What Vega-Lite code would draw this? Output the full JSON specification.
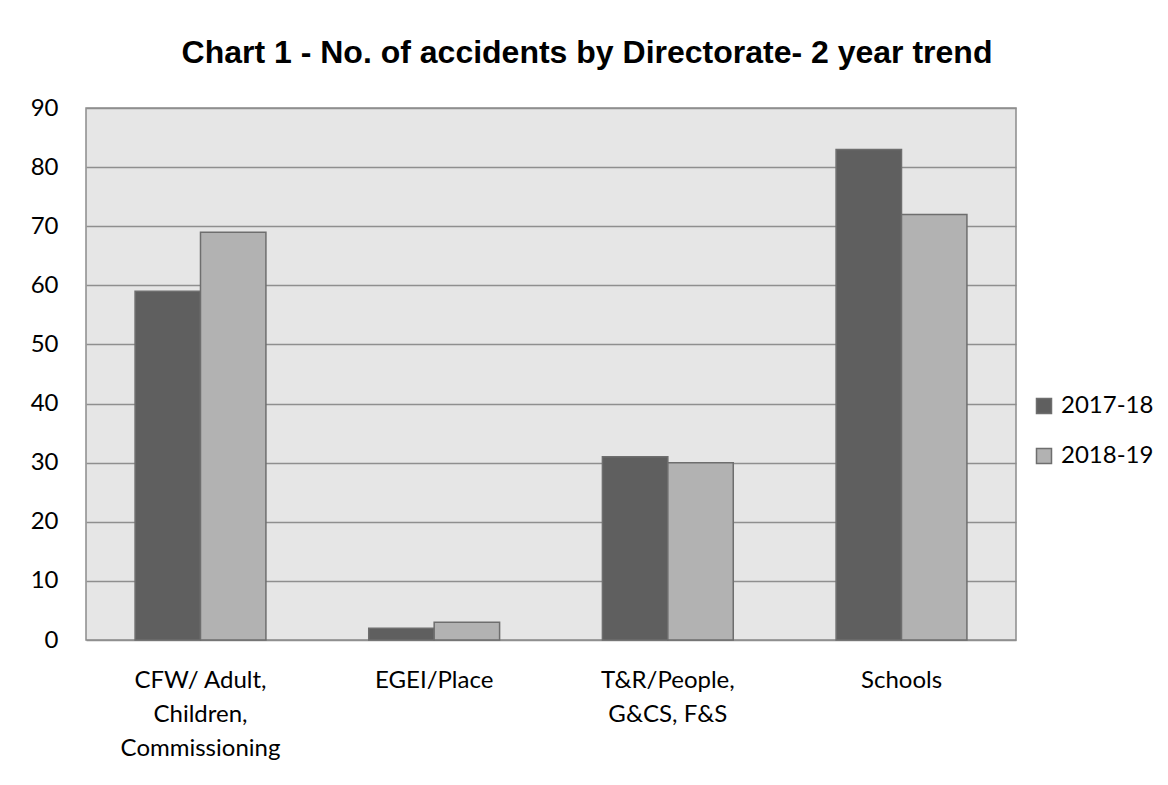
{
  "$schema": "https://vega.github.io/schema/vega-lite/v6.json",
  "width": 930,
  "height": 532,
  "autosize": {"type": "none"},
  "padding": {"left": 86, "top": 108, "right": 152, "bottom": 145},
  "background": "white",
  "title": {
    "text": "Chart 1 - No. of accidents by Directorate- 2 year trend",
    "font": "Liberation Sans",
    "fontSize": 32,
    "fontWeight": "bold",
    "color": "#000000",
    "anchor": "middle",
    "frame": "group",
    "dx": 36,
    "offset": 26
  },
  "data": {
    "values": [
      {"directorate": "CFW/ Adult, Children, Commissioning", "year": "2017-18", "accidents": 59},
      {"directorate": "CFW/ Adult, Children, Commissioning", "year": "2018-19", "accidents": 69},
      {"directorate": "EGEI/Place", "year": "2017-18", "accidents": 2},
      {"directorate": "EGEI/Place", "year": "2018-19", "accidents": 3},
      {"directorate": "T&R/People, G&CS, F&S", "year": "2017-18", "accidents": 31},
      {"directorate": "T&R/People, G&CS, F&S", "year": "2018-19", "accidents": 30},
      {"directorate": "Schools", "year": "2017-18", "accidents": 83},
      {"directorate": "Schools", "year": "2018-19", "accidents": 72}
    ]
  },
  "mark": {"type": "bar", "stroke": "#6e6e6e", "strokeWidth": 1.5},
  "encoding": {
    "x": {
      "field": "directorate",
      "type": "nominal",
      "sort": null,
      "title": null,
      "scale": {"paddingInner": 0.44, "paddingOuter": 0.21},
      "axis": {
        "labelAngle": 0,
        "labelFont": "Lato",
        "labelFontSize": 24,
        "labelColor": "#000000",
        "labelLineHeight": 34,
        "labelPadding": 28,
        "labelBaseline": "top",
        "ticks": false,
        "domain": false,
        "labelExpr": "datum.value == 'CFW/ Adult, Children, Commissioning' ? ['CFW/ Adult,', 'Children,', 'Commissioning'] : datum.value == 'T&R/People, G&CS, F&S' ? ['T&R/People,', 'G&CS, F&S'] : datum.value"
      }
    },
    "xOffset": {"field": "year", "type": "nominal"},
    "y": {
      "field": "accidents",
      "type": "quantitative",
      "title": null,
      "scale": {"domain": [0, 90], "nice": false},
      "axis": {
        "values": [0, 10, 20, 30, 40, 50, 60, 70, 80, 90],
        "labelFont": "Lato",
        "labelFontSize": 24,
        "labelColor": "#000000",
        "labelPadding": 28,
        "ticks": false,
        "domain": false,
        "grid": true,
        "gridColor": "#8f8f8f",
        "gridWidth": 1.5
      }
    },
    "color": {
      "field": "year",
      "type": "nominal",
      "title": null,
      "scale": {"domain": ["2017-18", "2018-19"], "range": ["#5f5f5f", "#b2b2b2"]},
      "legend": {
        "orient": "none",
        "legendX": 946,
        "legendY": 286,
        "symbolType": "square",
        "symbolSize": 225,
        "symbolStrokeColor": "#6e6e6e",
        "symbolStrokeWidth": 1.5,
        "labelFont": "Lato",
        "labelFontSize": 24,
        "labelColor": "#000000",
        "labelOffset": 5,
        "rowPadding": 26
      }
    }
  },
  "config": {
    "view": {"fill": "#e6e6e6", "stroke": "#8c8c8c", "strokeWidth": 1.5}
  }
}
